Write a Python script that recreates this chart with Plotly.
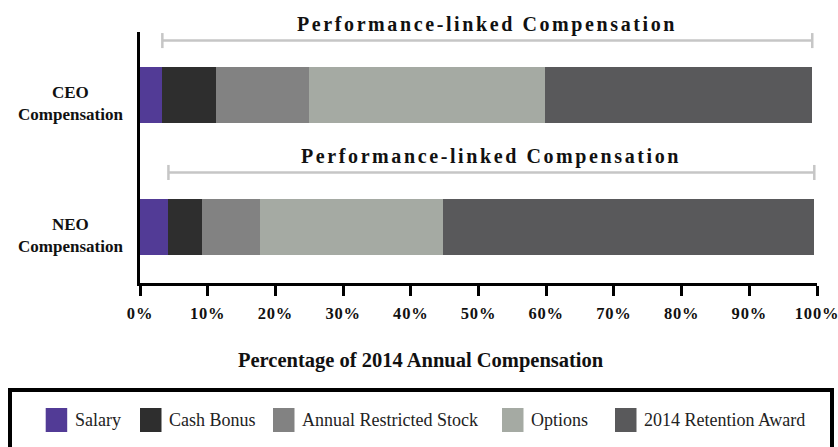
import plotly.graph_objects as go

# ---- data ----
groups = ["NEO Compensation", "CEO Compensation"]   # bottom to top
group_labels = ["NEO<br>Compensation", "CEO<br>Compensation"]
series_names = ["Salary", "Cash Bonus", "Annual Restricted Stock", "Options", "2014 Retention Award"]
series_colors = ["#523b96", "#2e2e2e", "#828282", "#a5aaa3", "#59595b"]
salary = [4.2, 3.3]
cash_bonus = [4.9, 7.9]
restricted_stock = [8.6, 13.8]
options = [27.0, 34.8]
retention = [54.9, 39.5]
x_tickvals = [0, 10, 20, 30, 40, 50, 60, 70, 80, 90, 100]
x_ticktext = ["0%", "10%", "20%", "30%", "40%", "50%", "60%", "70%", "80%", "90%", "100%"]
bracket_label = "Performance-linked Compensation"
x_title = "Percentage of 2014 Annual Compensation"

series_values = [salary, cash_bonus, restricted_stock, options, retention]

W, H = 838, 447
ML, MR, MT, MB = 140, 21, 32, 164
PW, PH = W - ML - MR, H - MT - MB

def px_x(p):
    return (p - ML) / PW

def px_y(p):
    return (H - MB - p) / PH

SERIF = "'Liberation Serif', 'Times New Roman', Times, serif"

fig = go.Figure()
for name, col, vals in zip(series_names, series_colors, series_values):
    fig.add_trace(go.Bar(
        y=groups, x=vals, name=name, orientation="h",
        marker=dict(color=col, line=dict(width=0)),
        width=0.424, showlegend=False,
    ))

shapes = []
annotations = []
# performance-linked brackets
for i, g in enumerate(groups):
    total = sum(s[i] for s in series_values)
    x0 = salary[i]
    yl = i + 0.41
    for (a, b, c, d) in [(x0, yl, total, yl), (x0, yl - 0.057, x0, yl + 0.057), (total, yl - 0.057, total, yl + 0.057)]:
        shapes.append(dict(type="line", xref="x", yref="y", x0=a, y0=b, x1=c, y1=d,
                           line=dict(color="#c6c6c6", width=2.5)))
    annotations.append(dict(x=(x0 + total) / 2, y=yl, xref="x", yref="y", yshift=16,
                            text='<span style="letter-spacing:2.6px">' + bracket_label + '</span>',
                            showarrow=False, xanchor="center", yanchor="middle",
                            font=dict(family=SERIF, size=20, color="#111", weight="bold")))
    annotations.append(dict(x=px_x(125), y=i, xref="paper", yref="y", yshift=-9,
                            text=group_labels[i], showarrow=False, xanchor="right", yanchor="middle",
                            align="center",
                            font=dict(family=SERIF, size=17, color="#111", weight="bold")))

# x-axis title (centred on the page, as in the original)
annotations.append(dict(x=px_x(421), y=px_y(360), xref="paper", yref="paper",
                        text=x_title, showarrow=False, xanchor="center", yanchor="middle",
                        font=dict(family=SERIF, size=20.5, color="#111", weight="bold")))

# legend box and manual legend
shapes.append(dict(type="rect", xref="paper", yref="paper", x0=px_x(10), x1=px_x(832),
                   y0=px_y(470), y1=px_y(390), line=dict(color="#000", width=4), fillcolor="rgba(0,0,0,0)"))
swatch_left = [45.7, 140, 273, 502, 615]
for name, col, sx in zip(series_names, series_colors, swatch_left):
    shapes.append(dict(type="rect", xref="paper", yref="paper", x0=px_x(sx), x1=px_x(sx + 21.5),
                       y0=px_y(432), y1=px_y(408), line=dict(width=0), fillcolor=col))
    annotations.append(dict(x=px_x(sx + 27), y=px_y(420), xref="paper", yref="paper",
                            text=name, showarrow=False, xanchor="left", yanchor="middle",
                            font=dict(family=SERIF, size=18, color="#222")))

tick_html = ['<span style="letter-spacing:0.8px">' + t + '</span>' for t in x_ticktext]

fig.update_layout(
    width=W, height=H, barmode="stack",
    margin=dict(l=ML, r=MR, t=MT, b=MB, autoexpand=False),
    paper_bgcolor="white", plot_bgcolor="white",
    font=dict(family=SERIF),
    shapes=shapes, annotations=annotations,
    xaxis=dict(range=[0, 100], tickvals=x_tickvals, ticktext=tick_html, automargin=False,
               ticklabeloverflow="allow",
               showgrid=False, zeroline=False, showline=True, linecolor="#000", linewidth=3,
               ticks="outside", ticklen=10, tickwidth=3, tickcolor="#000",
               ticklabelstandoff=3,
               tickfont=dict(family=SERIF, size=16.5, color="#111", weight="bold")),
    yaxis=dict(type="category", categoryorder="array", categoryarray=groups, automargin=False,
               range=[-0.428, 1.475], showgrid=False, zeroline=False,
               showline=True, linecolor="#000", linewidth=3, showticklabels=False, ticks=""),
)

fig.write_html("out.html", config={"displayModeBar": False},
               post_script="document.body.style.margin='0';document.body.style.padding='0';")
